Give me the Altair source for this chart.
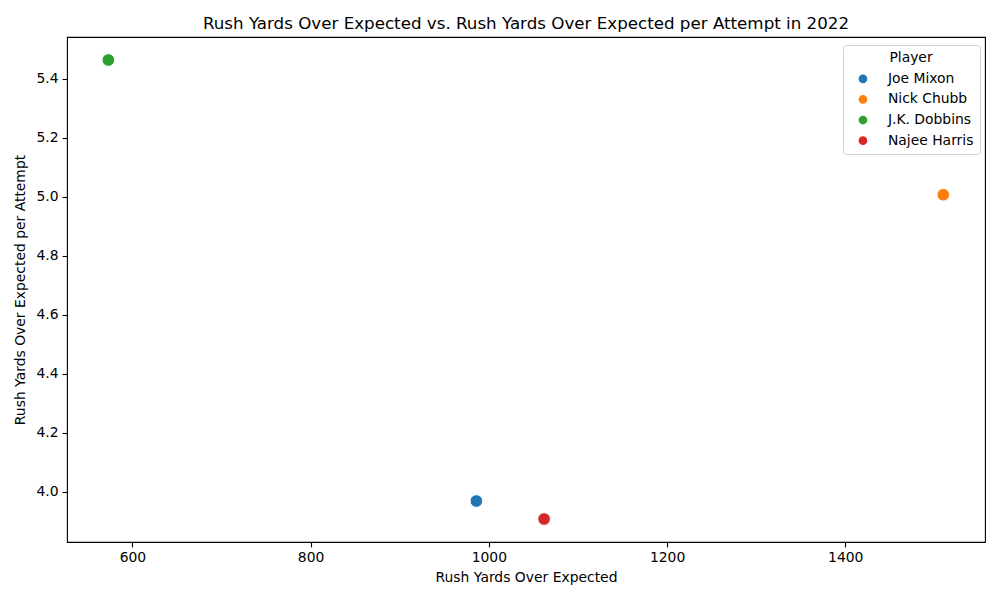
import altair as alt
import pandas as pd

players = ["Joe Mixon", "Nick Chubb", "J.K. Dobbins", "Najee Harris"]
ryoe = [986, 1510, 573, 1062]
ryoe_per_att = [3.968, 5.007, 5.464, 3.907]
colors = ["#1f77b4", "#ff7f0e", "#2ca02c", "#d62728"]

df = pd.DataFrame({"Player": players, "RYOE": ryoe, "RYOE_att": ryoe_per_att})

FONT = "DejaVu Sans"

chart = alt.Chart(df).mark_point(
    filled=True, shape="circle", size=160, opacity=1, stroke="white", strokeWidth=1
).encode(
    x=alt.X("RYOE:Q", title="Rush Yards Over Expected",
            scale=alt.Scale(domain=[526.6, 1556.8], nice=False, zero=False),
            axis=alt.Axis(values=[600, 800, 1000, 1200, 1400], format="d")),
    y=alt.Y("RYOE_att:Q", title="Rush Yards Over Expected per Attempt",
            scale=alt.Scale(domain=[3.829, 5.542], nice=False, zero=False),
            axis=alt.Axis(values=[4.0, 4.2, 4.4, 4.6, 4.8, 5.0, 5.2, 5.4], format=".1f")),
    color=alt.Color("Player:N", scale=alt.Scale(domain=players, range=colors),
                    legend=alt.Legend(title="Player", orient="none", legendX=776, legendY=8,
                                      symbolType="circle", symbolSize=75, symbolStrokeWidth=0,
                                      symbolOffset=7, labelOffset=18,
                                      padding=6, rowPadding=5.6, titlePadding=7,
                                      titleAnchor="middle",
                                      labelFontSize=13.9, titleFontSize=13.9,
                                      titleFontWeight="normal", labelFont=FONT, titleFont=FONT,
                                      labelColor="black", titleColor="black",
                                      strokeColor="#d0d0d0", fillColor="white",
                                      cornerRadius=3)),
).properties(
    width=918, height=505,
    title=alt.TitleParams("Rush Yards Over Expected vs. Rush Yards Over Expected per Attempt in 2022",
                          font=FONT, fontSize=16.7, fontWeight="normal", color="black",
                          anchor="middle", frame="group", baseline="bottom", offset=5, dy=18),
    autosize=alt.AutoSizeParams(type="none"),
    padding={"left": 59, "top": 29, "right": 7, "bottom": 50},
).configure_view(
    stroke="black", strokeWidth=1.1
).configure_axis(
    grid=False, domain=False, ticks=True, tickSize=4.9, tickWidth=1.1, tickColor="black",
    labelFont=FONT, labelFontSize=13.9, labelColor="black", labelPadding=4,
    titleFont=FONT, titleFontSize=13.9, titleFontWeight="normal", titleColor="black",
).configure_axisY(titlePadding=9).configure_axisX(titlePadding=6)

chart.save("out.html", embed_options={"renderer": "svg", "actions": False})
